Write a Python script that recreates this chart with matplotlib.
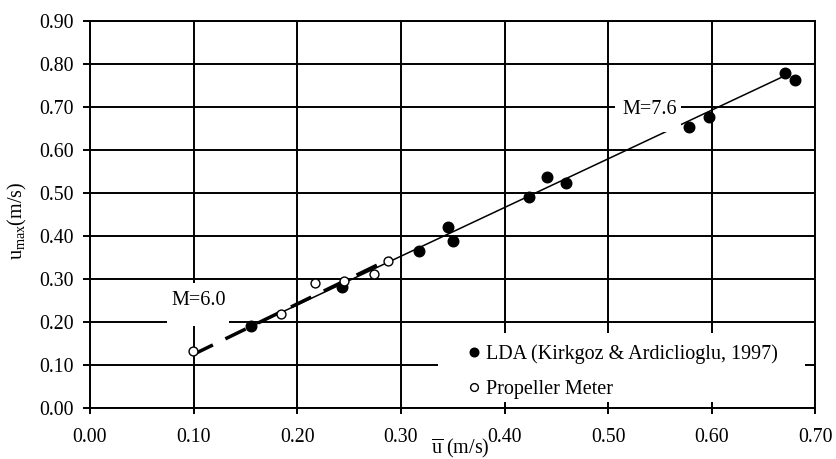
import numpy as np
import matplotlib.pyplot as plt
from matplotlib.patches import Rectangle
from matplotlib.lines import Line2D

plt.rcParams['font.family'] = ['Liberation Serif', 'DejaVu Serif']
plt.rcParams['mathtext.fontset'] = 'custom'
plt.rcParams['mathtext.rm'] = 'Liberation Serif'
plt.rcParams['mathtext.it'] = 'Liberation Serif:italic'

# LDA measurements (Kirkgoz & Ardiclioglu, 1997)
lda_u = [0.155, 0.243, 0.317, 0.345, 0.350, 0.424, 0.441, 0.459, 0.578, 0.597, 0.671, 0.680]
lda_umax = [0.191, 0.281, 0.364, 0.421, 0.388, 0.491, 0.537, 0.522, 0.653, 0.675, 0.778, 0.762]

# propeller meter measurements
prop_u = [0.099, 0.184, 0.217, 0.245, 0.274, 0.288]
prop_umax = [0.132, 0.217, 0.289, 0.295, 0.312, 0.342]

# fitted lines
fit76_u = [0.155, 0.674]
fit76_umax = [0.188, 0.776]
fit60_u = [0.099, 0.291]
fit60_umax = [0.123, 0.348]

xticks = np.arange(0, 0.71, 0.1)
yticks = np.arange(0, 0.91, 0.1)

fig = plt.figure(figsize=(8.37, 4.59), dpi=100)
ax = fig.add_axes([0.1075, 0.1118, 0.8668, 0.8431])

lw = 1.4
ax.set_xlim(0, 0.7)
ax.set_ylim(0, 0.9)
ax.set_xticks(xticks)
ax.set_yticks(yticks)
ax.set_xticklabels(['%.2f' % v for v in xticks])
ax.set_yticklabels(['%.2f' % v for v in yticks])
ax.grid(True, color='black', linewidth=lw, zorder=0)
ax.set_axisbelow(True)
for s in ax.spines.values():
    s.set_linewidth(lw)
    s.set_color('black')
ax.tick_params(axis='both', direction='out', width=lw, labelsize=14.3, colors='black')
ax.tick_params(axis='y', length=5, pad=6.5)
ax.tick_params(axis='x', length=4.3, pad=10)

ax.plot(fit76_u, fit76_umax, color='black', linewidth=1.1, zorder=3)
ax.plot(fit60_u, fit60_umax, color='black', linewidth=2.5, dashes=(6.5, 4), zorder=3)

# label boxes (white backgrounds as in the original)
ax.add_patch(Rectangle((0.074, 0.191), 0.060, 0.098, facecolor='white', edgecolor='none', zorder=3.5))
ax.add_patch(Rectangle((0.507, 0.641), 0.0635, 0.0955, facecolor='white', edgecolor='none', zorder=3.5))
ax.text(0.1045, 0.250, 'M=6.0', fontsize=14.5, ha='center', va='center', zorder=4)
ax.text(0.5405, 0.694, 'M=7.6', fontsize=14.5, ha='center', va='center', zorder=4)

ax.plot(lda_u, lda_umax, 'o', color='black', markersize=7.6, zorder=5)
ax.plot(prop_u, prop_umax, 'o', markerfacecolor='white', markeredgecolor='black',
        markeredgewidth=1.0, markersize=6.4, zorder=5)

# legend area
ax.add_patch(Rectangle((0.48, 0.0147), 0.506, 0.178, transform=ax.transAxes,
                       facecolor='white', edgecolor='none', zorder=6))
handles = [Line2D([], [], marker='o', linestyle='none', color='black', markersize=6.2),
           Line2D([], [], marker='o', linestyle='none', markerfacecolor='white',
                  markeredgecolor='black', markeredgewidth=1.0, markersize=5.6)]
leg = ax.legend(handles, ['LDA (Kirkgoz & Ardiclioglu, 1997)', 'Propeller Meter'],
                loc='upper left', bbox_to_anchor=(0.515, 0.174), frameon=False,
                fontsize=14.5, handlelength=0.6, handletextpad=0.3,
                labelspacing=0.8, borderpad=0.2, borderaxespad=0)
leg.set_zorder(7)

ax.text(0.51, -0.105, r'$\overline{\mathrm{u}}$ (m/s)', transform=ax.transAxes,
        fontsize=14.5, ha='center', va='center')
fig.text(0.021, 0.52, r'u$_{\mathrm{max}}$(m/s)', rotation=90, fontsize=14.5,
         ha='center', va='center')

fig.savefig('out.png', dpi=100)
